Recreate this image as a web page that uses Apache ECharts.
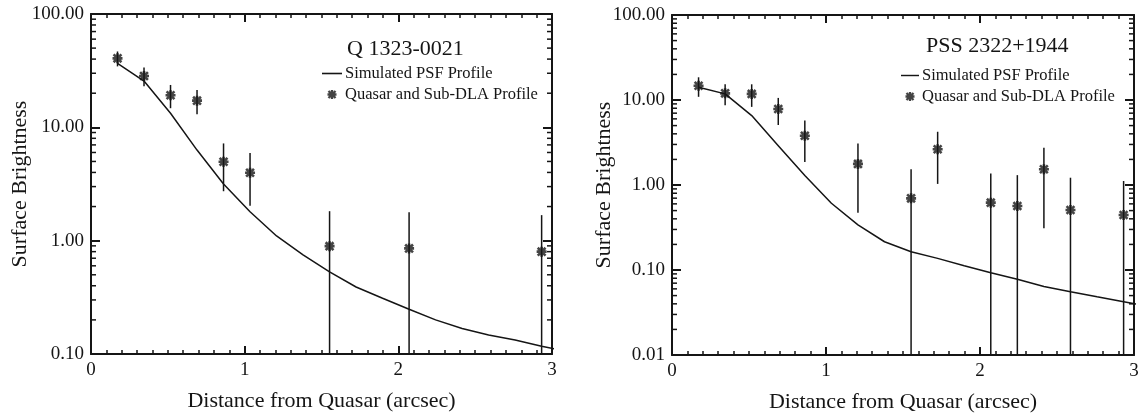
<!DOCTYPE html>
<html>
<head>
<meta charset="utf-8">
<title>Surface brightness profiles</title>
<style>
  html, body { margin: 0; padding: 0; background: #fff; }
  #main { width: 1144px; height: 418px; }
</style>
<script src="https://cdn.jsdelivr.net/npm/echarts@6/dist/echarts.min.js"></script>
</head>
<body>
<div id="main"></div>
<script>
// sample positions (arcsec) of the simulated PSF profile
var psfX = [0.1725, 0.345, 0.5175, 0.69, 0.8625, 1.035, 1.2075, 1.38, 1.5525, 1.725,
            1.8975, 2.07, 2.2425, 2.415, 2.5875, 2.76, 2.9325, 3.105];

// Q 1323-0021
var qPsf = [36.7, 25.6, 13.3, 6.3, 3.16, 1.8, 1.1, 0.75, 0.53, 0.39,
            0.31, 0.248, 0.20, 0.168, 0.147, 0.133, 0.117, 0.105];
var qX   = [0.1725, 0.345, 0.5175, 0.69, 0.8625, 1.035, 1.5525, 2.07, 2.9325];
var qY   = [40.6, 28.4, 19.2, 17.2, 4.97, 3.98, 0.895, 0.855, 0.80];
var qErr = [6.1, 5.4, 4.45, 4.15, 2.24, 1.95, 0.925, 0.925, 0.88];

// PSS 2322+1944
var pPsf = [14.1, 11.8, 6.55, 2.9, 1.29, 0.61, 0.34, 0.215, 0.164, 0.137,
            0.112, 0.093, 0.078, 0.064, 0.0556, 0.0485, 0.0424, 0.037];
var pX   = [0.1725, 0.345, 0.5175, 0.69, 0.8625, 1.2075, 1.5525, 1.725, 2.07, 2.2425, 2.415, 2.5875, 2.9325];
var pY   = [14.7, 11.97, 11.8, 7.83, 3.80, 1.77, 0.697, 2.63, 0.62, 0.566, 1.53, 0.508, 0.444];
var pErr = [3.8, 3.3, 3.5, 2.75, 1.93, 1.3, 0.83, 1.6, 0.75, 0.74, 1.22, 0.71, 0.67];

var titles = ['Q 1323-0021', 'PSS 2322+1944'];
var lineName = 'Simulated PSF Profile';
var dotName = 'Quasar and Sub-DLA Profile';
var xTitle = 'Distance from Quasar (arcsec)';
var yTitle = 'Surface Brightness';
var yMins = [0.1, 0.01];
var yMax = 100;

var FONT = 'Liberation Serif';
var INK = '#151515';
// asterisk made of four bars
var STAR = 'path://M3.7 0L6.3 0L6.3 10L3.7 10Z M0 3.7L10 3.7L10 6.3L0 6.3Z M0.2 2.0L2.0 0.2L9.8 8.0L8.0 9.8Z M8.0 0.2L9.8 2.0L2.0 9.8L0.2 8.0Z';
var DASH = 'path://M0 0L20 0L20 1.6L0 1.6Z';

var myChart = echarts.init(document.getElementById('main'));

// minor tick values 2..9 for each decade
function logMinors(lo, hi) {
    var out = [];
    for (var d = lo; d < hi; d *= 10) {
        for (var k = 2; k <= 9; k++) out.push([0, d * k]);
    }
    return out;
}

function xAxisPair(gi) {
    var base = {
        type: 'value', gridIndex: gi, min: 0, max: 3, interval: 1,
        axisLine: { show: true, onZero: false, lineStyle: { color: INK, width: 2 } },
        axisTick: { inside: true, length: 8, lineStyle: { color: INK, width: 2 } },
        minorTick: { show: true, splitNumber: 10, length: 4, lineStyle: { color: INK, width: 1.5 } },
        splitLine: { show: false }, minorSplitLine: { show: false }
    };
    var bottom = Object.assign({}, base, {
        position: 'bottom',
        name: xTitle, nameLocation: 'middle', nameGap: 36,
        nameTextStyle: { fontFamily: FONT, fontSize: 22, color: INK },
        axisLabel: { fontFamily: FONT, fontSize: 19, color: INK, margin: 7 }
    });
    var top = Object.assign({}, base, { position: 'top', axisLabel: { show: false } });
    return [bottom, top];
}

function yAxisPair(gi, ymin, gap) {
    var base = {
        type: 'log', logBase: 10, gridIndex: gi, min: ymin, max: yMax, interval: 1,
        axisLine: { show: true, onZero: false, lineStyle: { color: INK, width: 2 } },
        axisTick: { inside: true, length: 9, lineStyle: { color: INK, width: 2 } },
        splitLine: { show: false }
    };
    var left = Object.assign({}, base, {
        position: 'left',
        name: yTitle, nameLocation: 'middle', nameGap: gap, nameMoveOverlap: false,
        nameTextStyle: { fontFamily: FONT, fontSize: 22, color: INK },
        axisLabel: {
            fontFamily: FONT, fontSize: 19, color: INK, margin: 7,
            formatter: function (v) { return Number(v).toFixed(2); }
        }
    });
    var right = Object.assign({}, base, { position: 'right', axisLabel: { show: false } });
    return [left, right];
}

function minorTickSeries(ai, ymin) {
    return {
        type: 'custom', xAxisIndex: ai, yAxisIndex: ai, silent: true, z: 5,
        data: logMinors(ymin, yMax),
        renderItem: function (params, api) {
            var v = api.value(1);
            var l = api.coord([0, v]), r = api.coord([3, v]);
            var st = { stroke: INK, lineWidth: 1.5 };
            return {
                type: 'group', children: [
                    { type: 'line', shape: { x1: l[0], y1: l[1], x2: l[0] + 5, y2: l[1] }, style: st },
                    { type: 'line', shape: { x1: r[0] - 5, y1: r[1], x2: r[0], y2: r[1] }, style: st }
                ]
            };
        }
    };
}

function errorSeries(ai, xs, ys, es, ymin) {
    return {
        type: 'custom', xAxisIndex: ai, yAxisIndex: ai, silent: true, z: 3,
        data: xs.map(function (x, i) { return [x, ys[i], es[i]]; }),
        renderItem: function (params, api) {
            var x = api.value(0), y = api.value(1), e = api.value(2);
            var hi = api.coord([x, y + e]);
            var lo = api.coord([x, Math.max(y - e, ymin)]);
            return {
                type: 'line',
                shape: { x1: hi[0], y1: hi[1], x2: lo[0], y2: lo[1] },
                style: { stroke: INK, lineWidth: 1.5 }
            };
        }
    };
}

function lineSeries(ai, ys) {
    return {
        name: lineName, type: 'line', xAxisIndex: ai, yAxisIndex: ai,
        data: psfX.map(function (x, i) { return [x, ys[i]]; }),
        symbol: 'none', clip: true, z: 2,
        lineStyle: { color: INK, width: 1.5 }, itemStyle: { color: INK }
    };
}

function dotSeries(ai, xs, ys) {
    return {
        name: dotName, type: 'scatter', xAxisIndex: ai, yAxisIndex: ai,
        data: xs.map(function (x, i) { return [x, ys[i]]; }),
        symbol: STAR, symbolSize: 10, z: 4,
        itemStyle: { color: INK }
    };
}

function legendFor(left, top, w) {
    return {
        data: [{ name: lineName, icon: DASH }, { name: dotName, icon: STAR }],
        orient: 'vertical', left: left, top: top, padding: 0,
        itemWidth: w, itemHeight: 9, itemGap: 4, symbolKeepAspect: true,
        itemStyle: { color: INK },
        textStyle: { fontFamily: FONT, fontSize: 16.5, color: INK, padding: [0, 0, 0, -2] }
    };
}

var xAxes = xAxisPair(0).concat(xAxisPair(1));
var yAxes = yAxisPair(0, yMins[0], 60).concat(yAxisPair(1, yMins[1], 57));

var option = {
    animation: false,
    textStyle: { fontFamily: FONT },
    title: [
        { text: titles[0], left: 347, top: 38, padding: 0,
          textStyle: { fontFamily: FONT, fontSize: 22, fontWeight: 'normal', color: INK } },
        { text: titles[1], left: 926, top: 35, padding: 0,
          textStyle: { fontFamily: FONT, fontSize: 22, fontWeight: 'normal', color: INK } }
    ],
    legend: [legendFor(322, 65, 20), legendFor(901, 67, 18)],
    grid: [
        { left: 91, top: 14, width: 461, height: 340 },
        { left: 672, top: 15, width: 462, height: 340 }
    ],
    xAxis: xAxes,
    yAxis: yAxes,
    series: [
        lineSeries(0, qPsf),
        errorSeries(0, qX, qY, qErr, yMins[0]),
        dotSeries(0, qX, qY),
        minorTickSeries(0, yMins[0]),
        lineSeries(2, pPsf),
        errorSeries(2, pX, pY, pErr, yMins[1]),
        dotSeries(2, pX, pY),
        minorTickSeries(2, yMins[1])
    ]
};

myChart.setOption(option);
</script>
</body>
</html>
